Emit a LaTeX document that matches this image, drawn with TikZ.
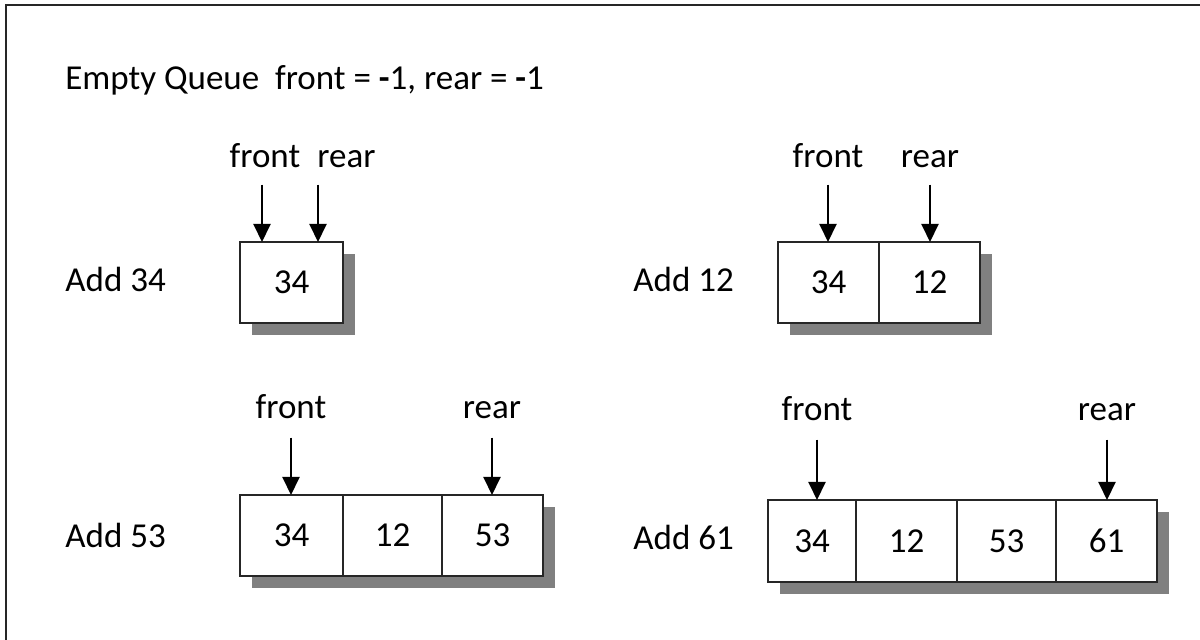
\documentclass[tikz,border=0pt]{standalone}
\usepackage{fontspec}
\setmainfont{Carlito}
\usetikzlibrary{positioning,arrows.meta,shadows}
\definecolor{shadowgray}{gray}{0.5}
\definecolor{linegray}{gray}{0.15}
\tikzset{
    cell/.style={draw=linegray, line width=1pt, fill=white, minimum height=40.5pt, inner sep=0pt, outer sep=0pt,
        drop shadow={shadow xshift=6pt, shadow yshift=-6pt, fill=shadowgray, opacity=1}},
    ptr/.style={line width=1pt, -{Triangle[width=8.5pt,length=9pt]}},
    lbl/.style={anchor=base, inner sep=0pt},
    step text/.style={anchor=base west, inner sep=0pt}
}

\begin{document}
\begin{tikzpicture}[x=0.5pt, y=-0.5pt, font=\fontsize{17.5}{21}\selectfont]
    \useasboundingbox (0,0) rectangle (1200,640);
    % frame, only top and left edges
    \draw[linegray, line width=1.2pt] (6,640) -- (6,5) -- (1200,5);

    \node[step text] (empty) at (65,90) {Empty Queue\ \ front = \textbf{-}1, rear = \textbf{-}1};

    % add 34
    \node[step text] (add1) at (65,292) {Add 34};
    \node[cell, minimum width=51.5pt, anchor=north west] (a1) at (240,242) {34};
    \node[lbl] (f1) at (265,168) {front};
    \node[lbl, anchor=base west] (r1) at (317,168) {rear};
    \draw[ptr] ([xshift=-1.5pt, yshift=-8pt]f1.south) -- ([xshift=-1.5pt]f1.south |- a1.north);
    \draw[ptr] ([xshift=0.5pt, yshift=-8pt]r1.south west) -- ([xshift=0.5pt]r1.south west |- a1.north);

    % add 12
    \node[step text] (add2) at (633,292) {Add 12};
    \node[cell, minimum width=50.5pt, anchor=north west] (b1) at (778,242) {34};
    \node[cell, minimum width=50.5pt, right=0pt of b1] (b2) {12};
    \node[lbl] (f2) at (828,168) {front};
    \node[lbl] (r2) at (930,168) {rear};
    \draw[ptr] ([yshift=-8pt]f2.south) -- (f2.south |- b1.north);
    \draw[ptr] ([yshift=-8pt]r2.south) -- (r2.south |- b2.north);

    % add 53
    \node[step text] (add3) at (65,548) {Add 53};
    \node[cell, minimum width=51.5pt, anchor=north west] (c1) at (240,495) {34};
    \node[cell, minimum width=49.5pt, right=0pt of c1] (c2) {12};
    \node[cell, minimum width=50.5pt, right=0pt of c2] (c3) {53};
    \node[lbl] (f3) at (291,419) {front};
    \node[lbl] (r3) at (492,419) {rear};
    \draw[ptr] ([yshift=-9pt]f3.south) -- (f3.south |- c1.north);
    \draw[ptr] ([yshift=-9pt]r3.south) -- (r3.south |- c3.north);

    % add 61
    \node[step text] (add4) at (633,550) {Add 61};
    \node[cell, minimum width=44pt, minimum height=41pt, anchor=north west] (d1) at (768,500) {34};
    \node[cell, minimum width=50.5pt, minimum height=41pt, right=0pt of d1] (d2) {12};
    \node[cell, minimum width=49.5pt, minimum height=41pt, right=0pt of d2] (d3) {53};
    \node[cell, minimum width=50.5pt, minimum height=41pt, right=0pt of d3] (d4) {61};
    \node[lbl] (f4) at (817,421) {front};
    \node[lbl] (r4) at (1107,421) {rear};
    \draw[ptr] ([yshift=-9pt]f4.south) -- (f4.south |- d1.north);
    \draw[ptr] ([yshift=-9pt]r4.south) -- (r4.south |- d4.north);
\end{tikzpicture}
\end{document}
